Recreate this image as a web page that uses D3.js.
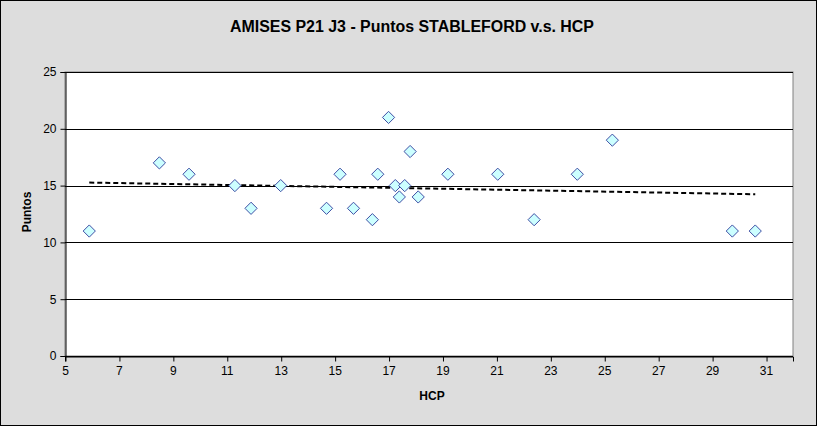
<!DOCTYPE html>
<html><head><meta charset="utf-8">
<script src="https://cdn.jsdelivr.net/npm/d3@7"></script>
<style>body{margin:0;padding:0;background:#fff;}svg{display:block;}</style>
</head><body>
<svg id="c" width="817" height="426"></svg>
<script>
const title = "AMISES P21 J3 - Puntos STABLEFORD v.s. HCP";
const xLabel = "HCP";
const yLabel = "Puntos";
const hcp =    [5.9, 8.5, 9.6, 11.3, 11.9, 13.0, 14.7, 15.2, 15.7, 16.4, 16.6, 17.0, 17.25, 17.4, 17.6, 17.8, 18.1, 19.2, 21.05, 22.4, 24.0, 25.3, 29.75, 30.6];
const puntos = [11,  17,  16,  15,   13,   15,   13,   16,   13,   12,   16,   21,   15,    14,   15,   18,   14,   16,   16,    12,   16,   19,   11,    11];
const xTicks = [5, 7, 9, 11, 13, 15, 17, 19, 21, 23, 25, 27, 29, 31];
const yTicks = [0, 5, 10, 15, 20, 25];

const W = 817, H = 426;
const m = {l: 65, r: 24, t: 72, b: 70};
const svg = d3.select("#c");
svg.append("rect").attr("x", 0.5).attr("y", 0.5).attr("width", W - 1).attr("height", H - 1)
  .attr("fill", "#dddddd").attr("stroke", "#000");

const x = d3.scaleLinear().domain([5, 32]).range([m.l, W - m.r]);
const y = d3.scaleLinear().domain([0, 25]).range([H - m.b, m.t]);

svg.append("rect").attr("x", x(5)).attr("y", y(25)).attr("width", x(32) - x(5)).attr("height", y(0) - y(25))
  .attr("fill", "#fff").attr("stroke", "#808080");

// gridlines
svg.append("g").selectAll("line").data(yTicks).join("line")
  .attr("x1", x(5)).attr("x2", x(32)).attr("y1", d => Math.round(y(d)) + 0.5).attr("y2", d => Math.round(y(d)) + 0.5)
  .attr("stroke", "#000");

const fontFam = "'Liberation Sans', Arial, sans-serif";
const xAxis = svg.append("g").attr("transform", `translate(0,${Math.round(y(0)) + 0.5})`)
  .call(d3.axisBottom(x).tickValues(xTicks).tickSize(5).tickPadding(5).tickFormat(d3.format("d")));
const yAxis = svg.append("g").attr("transform", `translate(${Math.round(x(5)) + 0.5},0)`)
  .call(d3.axisLeft(y).tickValues(yTicks).tickSize(5).tickPadding(4).tickFormat(d3.format("d")));
[xAxis, yAxis].forEach(g => {
  g.select(".domain").attr("stroke", "#000");
  g.selectAll(".tick line").attr("stroke", "#000");
  g.selectAll("text").attr("font-family", fontFam).attr("font-size", 12).attr("fill", "#000");
});
xAxis.selectAll(".tick line").attr("transform", "translate(0.5,0)");

// trendline (least squares)
const n = hcp.length;
const mx = d3.mean(hcp), my = d3.mean(puntos);
let sxy = 0, sxx = 0;
for (let i = 0; i < n; i++) { sxy += (hcp[i] - mx) * (puntos[i] - my); sxx += (hcp[i] - mx) ** 2; }
const slope = sxy / sxx, icpt = my - slope * mx;
const xe = d3.extent(hcp);
svg.append("path").datum(xe.map(v => [v, icpt + slope * v]))
  .attr("d", d3.line().x(d => x(d[0])).y(d => y(d[1])))
  .attr("stroke", "#000").attr("stroke-width", 2).attr("stroke-dasharray", "5,3").attr("fill", "none");

// markers
const sym = d3.symbol().type(d3.symbolDiamond2).size(95);
svg.append("g").selectAll("path").data(hcp.map((h, i) => [h, puntos[i]])).join("path")
  .attr("transform", d => `translate(${x(d[0])},${y(d[1])})`)
  .attr("d", sym).attr("fill", "#ccffff").attr("stroke", "#3f4fa5").attr("stroke-width", 1);

svg.append("text").attr("x", 412).attr("y", 32).attr("text-anchor", "middle")
  .attr("font-family", fontFam).attr("font-weight", "bold").attr("font-size", 16)
  .attr("textLength", 364).attr("lengthAdjust", "spacingAndGlyphs").text(title);
svg.append("text").attr("x", 432).attr("y", 400).attr("text-anchor", "middle")
  .attr("font-family", fontFam).attr("font-weight", "bold").attr("font-size", 12).text(xLabel);
svg.append("text").attr("transform", `translate(31,212) rotate(-90)`).attr("text-anchor", "middle")
  .attr("font-family", fontFam).attr("font-weight", "bold").attr("font-size", 12).text(yLabel);
</script>
</body></html>
